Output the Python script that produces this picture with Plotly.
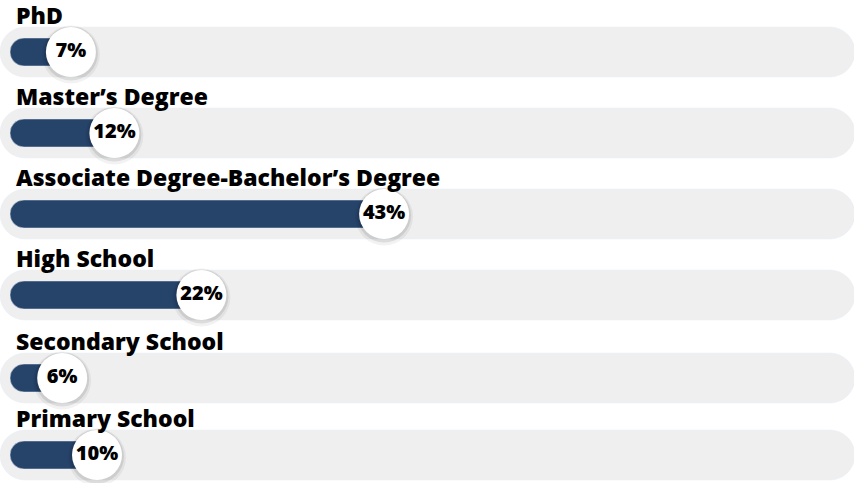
import plotly.graph_objects as go

categories = ["PhD", "Master’s Degree", "Associate Degree-Bachelor’s Degree",
              "High School", "Secondary School", "Primary School"]
values = [7, 12, 43, 22, 6, 10]
value_labels = ["7%", "12%", "43%", "22%", "6%", "10%"]

# layout: vertical centre of each row, in pixels from the top
ROW_Y = [52, 133, 214, 295, 378, 455]

BLUE = "#26436a"
TRACK = "#efefef"
FONT = "Open Sans"

n = len(categories)

X0, X1 = -1.149, 97.01        # visible x range (percent units)
track_start, track_end = X0, X1 + 0.1

fig = go.Figure()

# gray tracks
fig.add_trace(go.Bar(y=ROW_Y, x=[track_end - track_start] * n, base=[track_start] * n,
                     orientation="h", width=50, marker=dict(color=TRACK, cornerradius=25),
                     hoverinfo="skip", showlegend=False))

# blue value bars
fig.add_trace(go.Bar(y=ROW_Y, x=values, base=[0] * n, orientation="h", width=28,
                     marker=dict(color=BLUE, cornerradius=14), hoverinfo="skip", showlegend=False))

# soft shadows under the value bubbles
fig.add_trace(go.Scatter(x=values, y=[r + 2.5 for r in ROW_Y], mode="markers",
                         marker=dict(size=58, color="rgba(0,0,0,0.05)", line=dict(width=0)),
                         hoverinfo="skip", showlegend=False))
fig.add_trace(go.Scatter(x=values, y=[r + 1.5 for r in ROW_Y], mode="markers",
                         marker=dict(size=54, color="rgba(0,0,0,0.09)", line=dict(width=0)),
                         hoverinfo="skip", showlegend=False))

# value bubbles with labels
fig.add_trace(go.Scatter(x=values, y=ROW_Y, mode="markers+text", text=value_labels,
                         textposition="middle center",
                         textfont=dict(family=FONT, size=20, color="#000000", weight=800),
                         marker=dict(size=50, color="#ffffff", line=dict(width=0)),
                         hoverinfo="skip", showlegend=False))

# category labels above each track
for r, c in zip(ROW_Y, categories):
    fig.add_annotation(x=14 / 854, xref="paper", y=r - 37, yref="y", text=c,
                       showarrow=False, xanchor="left", yanchor="middle",
                       font=dict(family=FONT, size=23, color="#000000", weight=800))

fig.update_layout(
    width=854, height=483, margin=dict(l=0, r=0, t=0, b=0),
    paper_bgcolor="#ffffff", plot_bgcolor="#ffffff",
    barmode="overlay", showlegend=False,
    xaxis=dict(range=[X0, X1], visible=False, fixedrange=True),
    yaxis=dict(range=[483, 0], visible=False, fixedrange=True),
)

fig.write_html("out.html", config={"displayModeBar": False},
               post_script="document.body.style.margin='0';")
